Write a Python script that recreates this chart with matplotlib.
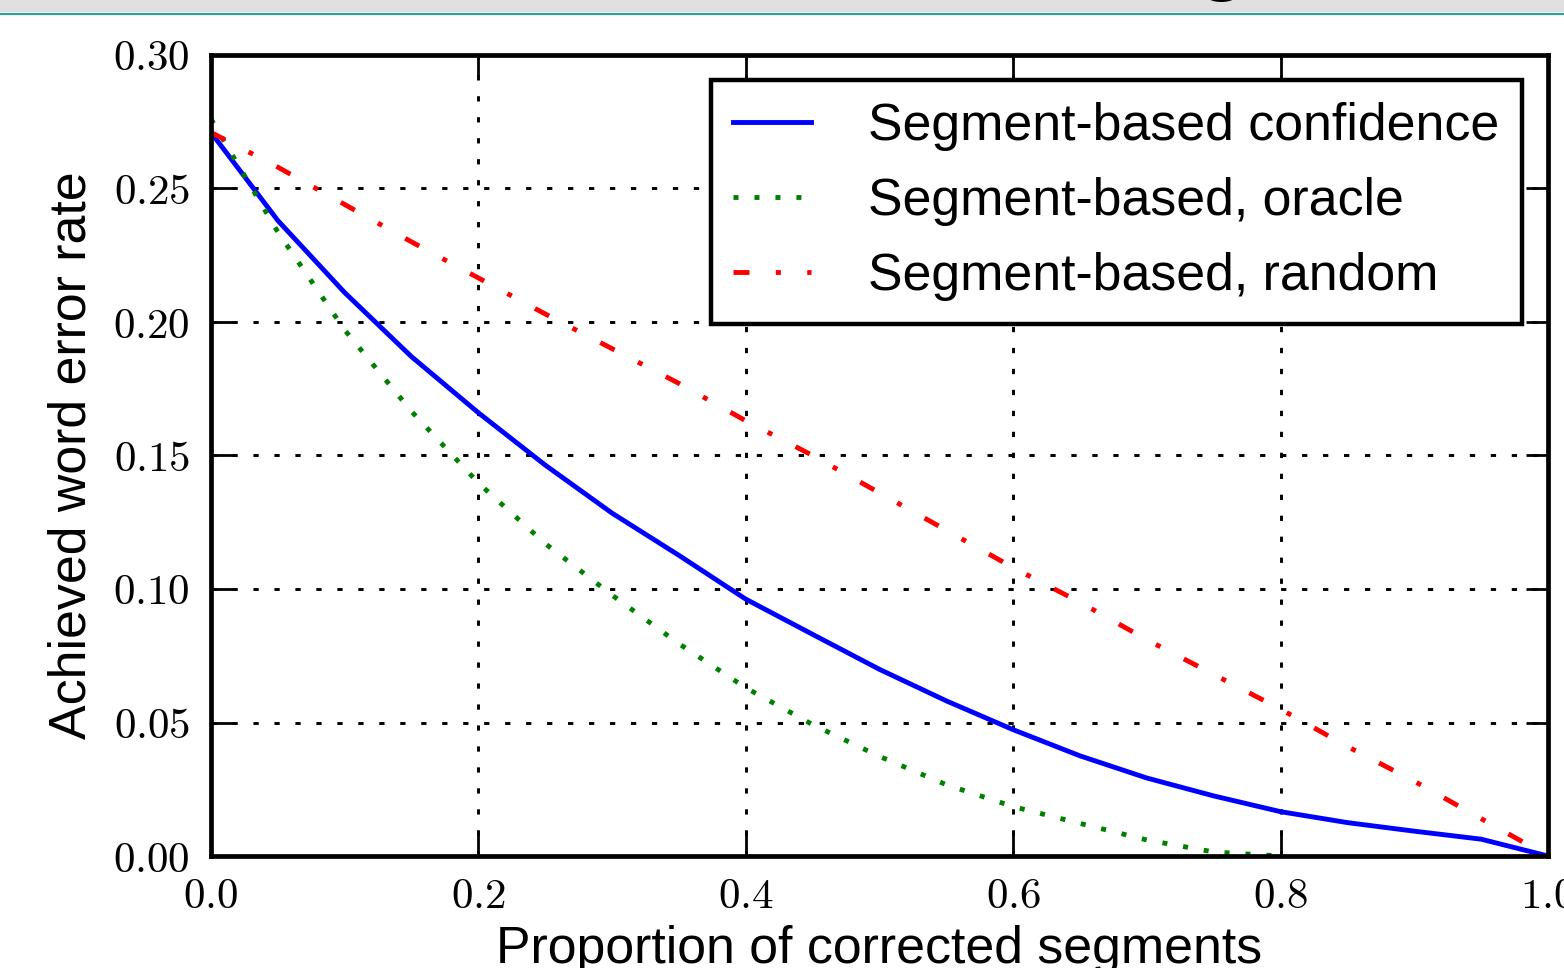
import matplotlib
matplotlib.use('Agg')
import matplotlib.pyplot as plt
from matplotlib.ticker import FuncFormatter, MultipleLocator
import matplotlib.patches as mpatches
import matplotlib.lines as mlines

# ---- data ----
proportion = [0.00, 0.05, 0.10, 0.15, 0.20, 0.25, 0.30, 0.35, 0.40, 0.45, 0.50,
              0.55, 0.60, 0.65, 0.70, 0.75, 0.80, 0.85, 0.90, 0.95, 1.00]
wer_confidence = [0.271, 0.238, 0.211, 0.187, 0.166, 0.1464, 0.1284, 0.1126, 0.0962,
                  0.0830, 0.0699, 0.0581, 0.0473, 0.0375, 0.0292, 0.0225, 0.0166,
                  0.0125, 0.0093, 0.0063, 0.0]
wer_oracle = [0.276, 0.2337, 0.197, 0.1665, 0.1397, 0.117, 0.0977, 0.0795, 0.0630,
              0.0492, 0.0373, 0.0267, 0.0185, 0.0122, 0.0060, 0.0015, 0.0]
wer_random = [0.271, 0.258, 0.244, 0.230, 0.2165, 0.203, 0.190, 0.177, 0.163, 0.150,
              0.136, 0.122, 0.108, 0.095, 0.081, 0.068, 0.055, 0.041, 0.028, 0.014, 0.0]
labels = ["Segment-based confidence", "Segment-based, oracle", "Segment-based, random"]
xlabel = "Proportion of corrected segments"
ylabel = "Achieved word error rate"

plt.rcParams['mathtext.fontset'] = 'cm'
plt.rcParams['font.family'] = ['Liberation Sans', 'DejaVu Sans']
plt.rcParams['lines.scale_dashes'] = False

W, H = 1564, 968
fig = plt.figure(figsize=(W / 100, H / 100), dpi=100)
fig.patch.set_facecolor('white')

# slide header band (partially visible)
fig.patches.append(mpatches.Rectangle((0, 1 - 12 / H), 1, 12 / H, transform=fig.transFigure,
                                      facecolor='#e0e0e0', edgecolor='none', zorder=0))
fig.lines.append(mlines.Line2D([0, 1], [1 - 13.5 / H, 1 - 13.5 / H], transform=fig.transFigure,
                               color='#2ea597', lw=1.6, zorder=1))
fig.text(1222 / W, 1 + 14.5 / H, "g", fontsize=60, fontweight='bold', ha='center',
         va='baseline', color='black')

ax = fig.add_axes([211 / W, 1 - 856 / H, (1548 - 211) / W, (856 - 55) / H])

lw = 3.5
ax.plot(proportion, wer_confidence, color='#0000ff', lw=lw, solid_capstyle='projecting',
        label=labels[0])
ax.plot(proportion[:len(wer_oracle)], wer_oracle, color='#008000', lw=lw,
        linestyle=(0, (3.6, 11.5)), dash_capstyle='butt', label=labels[1])
ax.plot(proportion, wer_random, color='#ff0000', lw=lw, linestyle=(0, (11.5, 19.0, 3.6, 19.0)),
        dash_capstyle='butt', label=labels[2])

ax.set_xlim(0, 1.0)
ax.set_ylim(0, 0.30)
ax.xaxis.set_major_locator(MultipleLocator(0.2))
ax.yaxis.set_major_locator(MultipleLocator(0.05))
ax.xaxis.set_major_formatter(FuncFormatter(lambda v, _: f"${v:.1f}$"))
ax.yaxis.set_major_formatter(FuncFormatter(lambda v, _: f"${v:.2f}$"))

ax.grid(True, color='black', lw=2.1, linestyle=(0, (3.8, 11.3)))
ax.tick_params(direction='in', length=16, width=2.0, top=True, right=True,
               labelsize=31, pad=15, colors='black')
for s in ax.spines.values():
    s.set_linewidth(3.4)
    s.set_color('black')

ax.set_xlabel(xlabel, fontsize=37.4, labelpad=6)
ax.set_ylabel(ylabel, fontsize=37.4, labelpad=12)

leg = ax.legend(loc='upper right', bbox_to_anchor=((1522 - 211) / (1548 - 211), (856 - 80) / (856 - 55)),
                borderaxespad=0, fontsize=37.4, handlelength=1.5, handletextpad=1.1,
                labelspacing=0.5, borderpad=0.43, fancybox=False, framealpha=1.0)
leg.get_frame().set_edgecolor('black')
leg.get_frame().set_linewidth(3.2)

fig.savefig('out.png', dpi=100)
